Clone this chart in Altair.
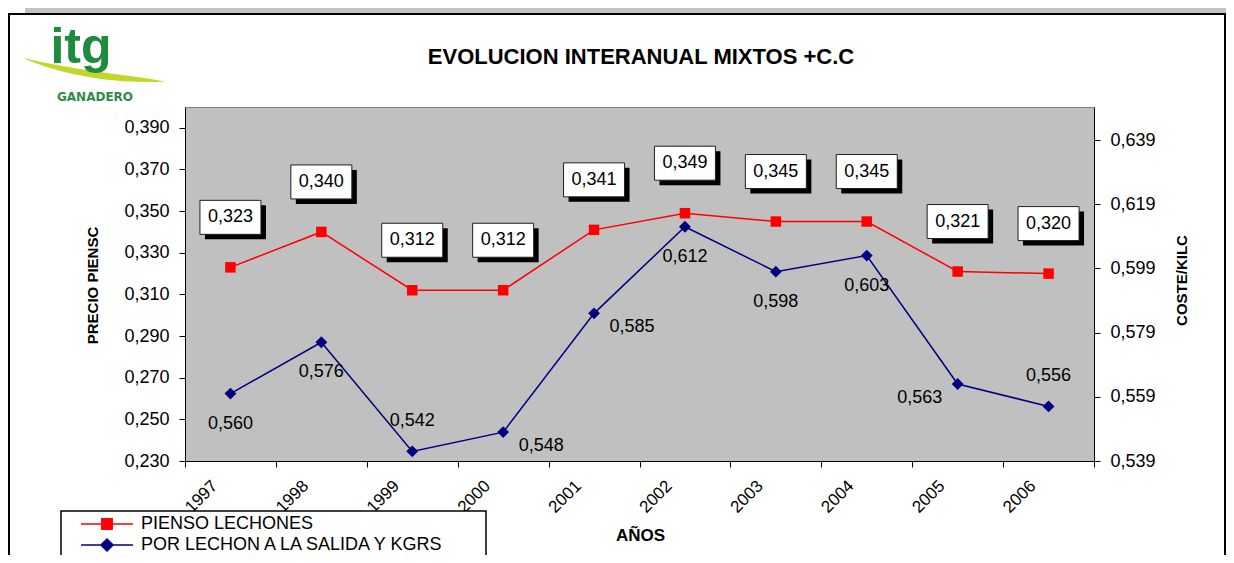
import altair as alt
import pandas as pd

# ---------------- data ----------------
years = ["1997", "1998", "1999", "2000", "2001", "2002", "2003", "2004", "2005", "2006"]
pienso = [0.323, 0.340, 0.312, 0.312, 0.341, 0.349, 0.345, 0.345, 0.321, 0.320]
coste = [0.560, 0.576, 0.542, 0.548, 0.585, 0.612, 0.598, 0.603, 0.563, 0.556]
series_names = ["PIENSO LECHONES", "POR LECHON A LA SALIDA Y KGRS"]
left_ticks = [0.230, 0.250, 0.270, 0.290, 0.310, 0.330, 0.350, 0.370, 0.390]
right_ticks = [0.539, 0.559, 0.579, 0.599, 0.619, 0.639]
left_domain = [0.230, 0.400]
right_domain = [0.539, 0.6493]

df = pd.DataFrame({"year": years, "pienso": pienso, "coste": coste})
leg_df = pd.DataFrame({"serie": series_names})

# ---------------- style ----------------
FONT = "Liberation Sans"
RED = "#FF0000"
NAVY = "#000080"
fmt = "replace(format(datum.value, '.3f'), '.', ',')"
low_thr = right_domain[0] + 0.16 * (right_domain[1] - right_domain[0])

x_enc = alt.X(
    "year:O",
    scale=alt.Scale(type="band", paddingInner=0, paddingOuter=0),
    axis=alt.Axis(
        title="AÑOS", tickBand="extent", labelAngle=-45, labelAlign="right",
        labelBaseline="middle", labelOffset=-16, labelPadding=16, tickSize=6,
        labelFontSize=17, titleX=455, titleY=74, titleAlign="center",
        titleBaseline="middle", titleFontSize=17, titleFontWeight="bold",
    ),
)

y_red = alt.Y(
    "pienso:Q",
    scale=alt.Scale(domain=left_domain, nice=False, zero=False),
    axis=alt.Axis(
        orient="left", values=left_ticks, labelExpr=fmt, title="PRECIO PIENSC",
        titleAngle=-90, titleX=-93, titleY=178, titleAlign="center",
        titleBaseline="middle", titleFontSize=15, titleFontWeight="bold",
        tickSize=6, labelPadding=10, labelFontSize=18, grid=False,
    ),
)

y_blue = alt.Y(
    "coste:Q",
    scale=alt.Scale(domain=right_domain, nice=False, zero=False),
    axis=alt.Axis(
        orient="right", values=right_ticks, labelExpr=fmt, title="COSTE/KILC",
        titleAngle=-90, titleX=87, titleY=173, titleAlign="center",
        titleBaseline="middle", titleFontSize=15, titleFontWeight="bold",
        tickSize=6, labelPadding=10, labelFontSize=18, grid=False,
    ),
)

base = alt.Chart(df)

# ---------------- red series (left axis) ----------------
box_path = "M-1,-0.557H1V0.557H-1Z"
red_line = base.mark_line(color=RED, strokeWidth=1.5).encode(x=x_enc, y=y_red)
red_pts = base.mark_point(shape="square", filled=True, size=110, color=RED, opacity=1).encode(x=x_enc, y=y_red)
red_shadow = base.mark_point(shape=box_path, filled=True, size=3721, color="black",
                             opacity=1, xOffset=5, yOffset=-45).encode(x=x_enc, y=y_red)
red_box = base.mark_point(shape=box_path, filled=True, size=3721, color="white",
                          stroke="#202020", strokeWidth=1, opacity=1, yOffset=-50).encode(x=x_enc, y=y_red)
red_txt = base.transform_calculate(
    lab="replace(format(datum.pienso, '.3f'), '.', ',')"
).mark_text(font=FONT, fontSize=18, color="black", baseline="middle", dy=-50).encode(
    x=x_enc, y=y_red, text="lab:N")
red_layer = alt.layer(red_line, red_pts, red_shadow, red_box, red_txt)

# ---------------- blue series (right axis) ----------------
blue_line = base.mark_line(color=NAVY, strokeWidth=1.5).encode(x=x_enc, y=y_blue)
blue_pts = base.mark_point(shape="diamond", filled=True, size=140, color=NAVY, opacity=1).encode(x=x_enc, y=y_blue)

is_max = "(datum.prev == null || datum.prev < datum.coste) && (datum.nxt == null || datum.nxt < datum.coste)"
is_min = "(datum.prev == null || datum.prev > datum.coste) && (datum.nxt == null || datum.nxt > datum.coste)"
blue_base = base.transform_window(
    prev="lag(coste)", nxt="lead(coste)", sort=[alt.SortField("year")]
).transform_calculate(
    lab="replace(format(datum.coste, '.3f'), '.', ',')",
    pos=(f"{is_max} ? 'below' : {is_min} ? (datum.coste < {low_thr} ? 'above' : 'below') : "
         "datum.prev < datum.coste ? 'right' : 'left'"),
)
placements = {"above": (0, -30), "below": (0, 30), "right": (38, 14), "left": (-38, 14)}
blue_txts = [
    blue_base.transform_filter(f"datum.pos == '{p}'").mark_text(
        font=FONT, fontSize=18, color="black", baseline="middle", dx=dx, dy=dy
    ).encode(x=x_enc, y=y_blue, text="lab:N")
    for p, (dx, dy) in placements.items()
]
blue_layer = alt.layer(blue_line, blue_pts, *blue_txts)

# ---------------- legend ----------------
sq_path = "M-2.36,0H2.36M-0.47,-0.47H0.47V0.47H-0.47Z"
dia_path = "M-2.36,0H2.36M0,-0.55L0.55,0L0,0.55L-0.55,0Z"
color_scale = alt.Scale(domain=series_names, range=[RED, NAVY])
shape_scale = alt.Scale(domain=series_names, range=[sq_path, dia_path])
leg = alt.Legend(
    title=None, orient="none", legendX=-90, legendY=405, direction="vertical",
    padding=0, labelFont=FONT, labelFontSize=18, labelColor="black",
    labelLimit=600, labelOffset=22, symbolSize=484, symbolStrokeWidth=1.5,
    symbolOpacity=1, rowPadding=0,
)
legend_layer = alt.Chart(leg_df).mark_point(filled=True, opacity=0).encode(
    x=alt.value(0), y=alt.value(0),
    fill=alt.Fill("serie:N", scale=color_scale, legend=leg),
    stroke=alt.Stroke("serie:N", scale=color_scale, legend=leg),
    shape=alt.Shape("serie:N", scale=shape_scale, legend=leg),
)

# ---------------- decorations ----------------
one = alt.Data(values=[{}])
band = alt.Chart(one).mark_rect(color="#c4c4c4").encode(
    x=alt.value(-160), x2=alt.value(1041), y=alt.value(-99), y2=alt.value(-94))
frame = alt.Chart(one).mark_rect(fillOpacity=0, stroke="black", strokeWidth=2).encode(
    x=alt.value(-176), x2=alt.value(1040), y=alt.value(-93), y2=alt.value(452))
legend_box = alt.Chart(one).mark_rect(color="white", stroke="black", strokeWidth=1.5).encode(
    x=alt.value(-124), x2=alt.value(301), y=alt.value(404), y2=alt.value(470))
title = alt.Chart(one).mark_text(
    text="EVOLUCION INTERANUAL MIXTOS +C.C", font=FONT, fontSize=22, fontWeight="bold",
    color="black", align="center", baseline="middle").encode(x=alt.value(456), y=alt.value(-50))
swoosh_path = "M-1,-0.17C-0.3,0.0 0.4,0.06 1,0.16C0.4,0.2 -0.4,0.1 -1,-0.17Z"
swoosh = alt.Chart(one).mark_point(shape=swoosh_path, filled=True, color="#C5D62B",
                                    opacity=1, size=20449).encode(x=alt.value(-91), y=alt.value(-37))
itg = alt.Chart(one).mark_text(text="itg", font=FONT, fontSize=50, fontWeight="bold",
                               color="#1F8B3F", align="center", baseline="alphabetic").encode(
    x=alt.value(-104), y=alt.value(-44))
ganadero = alt.Chart(one).mark_text(text="GANADERO", font="DejaVu Sans", fontSize=12,
                                    fontWeight="bold", color="#2E8B47", align="center",
                                    baseline="middle").encode(x=alt.value(-90), y=alt.value(-10))

chart = alt.layer(
    band, frame, legend_box, swoosh, itg, ganadero, title, red_layer, blue_layer, legend_layer
).resolve_scale(y="independent").properties(
    width=909, height=354,
    padding={"left": 177, "top": 99, "right": 132, "bottom": 94},
    autosize=alt.AutoSizeParams(type="none"),
    background="white",
).configure_view(fill="#C0C0C0", stroke="#808080").configure_axis(
    labelFont=FONT, titleFont=FONT, labelColor="black", titleColor="black",
    domainColor="black", tickColor="black", grid=False,
)

chart.save("out.html", embed_options={"renderer": "svg", "actions": False})
